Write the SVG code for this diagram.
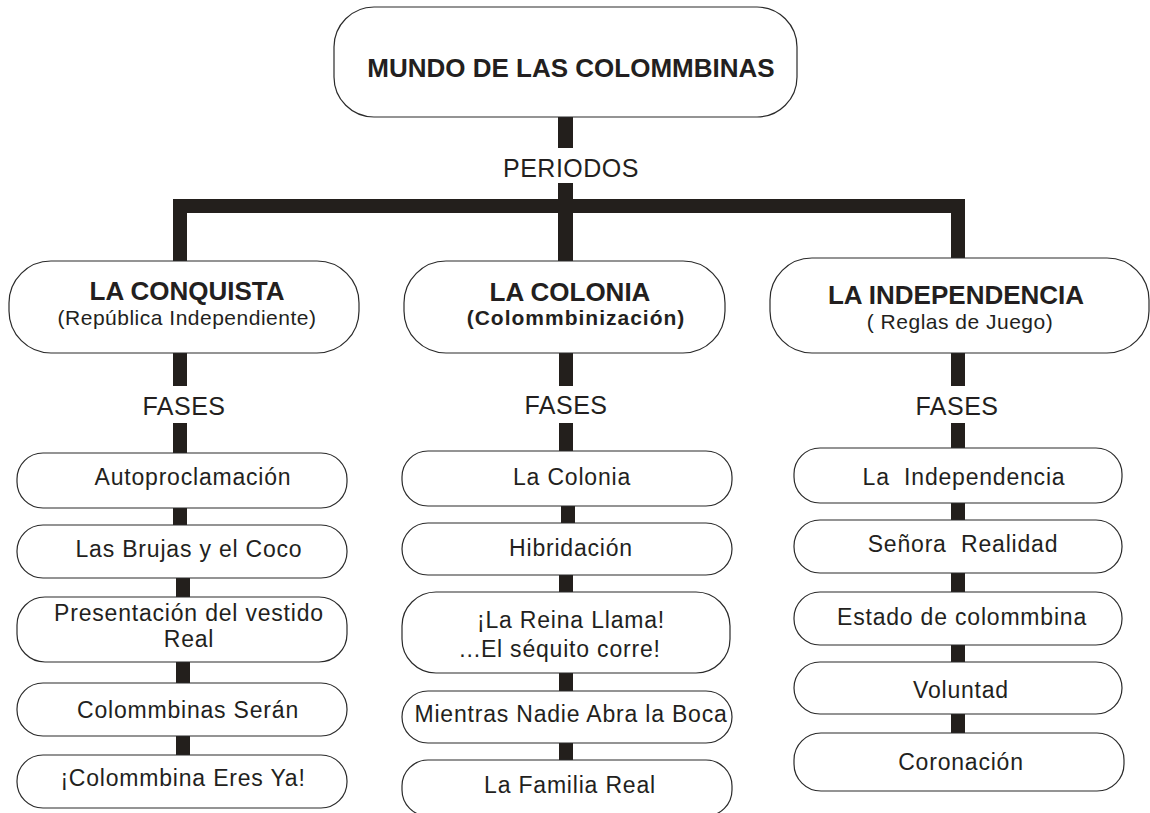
<svg xmlns="http://www.w3.org/2000/svg" width="1150" height="813" viewBox="0 0 1150 813">
<style>
.box{fill:#fff;stroke:#2a2a2a;stroke-width:1.2}
.c{fill:#231f1c}
text{font-family:"Liberation Sans",Arial,sans-serif;fill:#231f20;text-anchor:middle}
.t{font-size:26px;font-weight:bold}
.s{font-size:21px;letter-spacing:0.5px}
.sb{font-size:21px;font-weight:bold;letter-spacing:1px}
.l{font-size:25px;letter-spacing:0.5px}
.p{font-size:23px;letter-spacing:0.8px}
</style>
<rect x="0" y="0" width="1150" height="813" fill="#fff"/>
<g id="connectors">
<rect class="c" x="558" y="117" width="15" height="31"/>
<rect class="c" x="558" y="183" width="15" height="78"/>
<rect class="c" x="173" y="199" width="792" height="14"/>
<rect class="c" x="173" y="199" width="14" height="62"/>
<rect class="c" x="951" y="199" width="14" height="59"/>
<rect class="c" x="173" y="353" width="14" height="33"/>
<rect class="c" x="173" y="423" width="14" height="30"/>
<rect class="c" x="173" y="508" width="14" height="17"/>
<rect class="c" x="176" y="578" width="14" height="19"/>
<rect class="c" x="176" y="662" width="14" height="21"/>
<rect class="c" x="176" y="736" width="14" height="19"/>
<rect class="c" x="559" y="353" width="14" height="33"/>
<rect class="c" x="559" y="423" width="14" height="28"/>
<rect class="c" x="561" y="506" width="14" height="17"/>
<rect class="c" x="559" y="575" width="14" height="17"/>
<rect class="c" x="559" y="673" width="14" height="18"/>
<rect class="c" x="559" y="743" width="14" height="17"/>
<rect class="c" x="951" y="353" width="14" height="33"/>
<rect class="c" x="951" y="423" width="14" height="25"/>
<rect class="c" x="951" y="503" width="14" height="17"/>
<rect class="c" x="951" y="573" width="14" height="19"/>
<rect class="c" x="951" y="645" width="14" height="17"/>
<rect class="c" x="951" y="714" width="14" height="19"/>
</g>
<g id="labels">
<text class="l" x="571" y="177">PERIODOS</text>
<text class="l" x="184" y="415">FASES</text>
<text class="l" x="566" y="414">FASES</text>
<text class="l" x="957" y="415">FASES</text>
</g>
<g id="root">
<rect class="box" x="334" y="7" width="463" height="110" rx="40" ry="40"/>
<text class="t" x="571" y="77">MUNDO DE LAS COLOMMBINAS</text>
</g>
<g id="conquista">
<rect class="box" x="9" y="261" width="350" height="92" rx="42" ry="42"/>
<text class="t" x="187" y="300">LA CONQUISTA</text>
<text class="s" x="187" y="325">(República Independiente)</text>
</g>
<g id="colonia">
<rect class="box" x="404" y="261" width="321" height="92" rx="42" ry="42"/>
<text class="t" x="570" y="301">LA COLONIA</text>
<text class="sb" x="576" y="325">(Colommbinización)</text>
</g>
<g id="independencia">
<rect class="box" x="770" y="258" width="379" height="95" rx="42" ry="42"/>
<text class="t" x="956" y="304">LA INDEPENDENCIA</text>
<text class="s" x="960" y="329">( Reglas de Juego)</text>
</g>
<g id="c1">
<rect class="box" x="17" y="453" width="330" height="55" rx="26" ry="26"/>
<text class="p" x="193" y="485">Autoproclamación</text>
</g>
<g id="c2">
<rect class="box" x="17" y="525" width="330" height="53" rx="26" ry="26"/>
<text class="p" x="189" y="557">Las Brujas y el Coco</text>
</g>
<g id="c3">
<rect class="box" x="17" y="597" width="330" height="65" rx="28" ry="28"/>
<text class="p" x="189" y="621">Presentación del vestido</text>
<text class="p" x="189" y="647">Real</text>
</g>
<g id="c4">
<rect class="box" x="17" y="683" width="330" height="53" rx="26" ry="26"/>
<text class="p" x="188" y="718">Colommbinas Serán</text>
</g>
<g id="c5">
<rect class="box" x="17" y="755" width="330" height="53" rx="26" ry="26"/>
<text class="p" x="183" y="786">¡Colommbina Eres Ya!</text>
</g>
<g id="m1">
<rect class="box" x="402" y="451" width="330" height="55" rx="26" ry="26"/>
<text class="p" x="572" y="485">La Colonia</text>
</g>
<g id="m2">
<rect class="box" x="402" y="523" width="330" height="52" rx="26" ry="26"/>
<text class="p" x="571" y="556">Hibridación</text>
</g>
<g id="m3">
<rect class="box" x="402" y="592" width="328" height="81" rx="34" ry="34"/>
<text class="p" x="571" y="628">¡La Reina Llama!</text>
<text class="p" x="560" y="657">...El séquito corre!</text>
</g>
<g id="m4">
<rect class="box" x="402" y="691" width="330" height="52" rx="26" ry="26"/>
<text class="p" x="571" y="722">Mientras Nadie Abra la Boca</text>
</g>
<g id="m5">
<rect class="box" x="402" y="760" width="330" height="56" rx="26" ry="26"/>
<text class="p" x="570" y="793">La Familia Real</text>
</g>
<g id="r1">
<rect class="box" x="794" y="448" width="328" height="55" rx="26" ry="26"/>
<text class="p" x="964" y="485" xml:space="preserve">La  Independencia</text>
</g>
<g id="r2">
<rect class="box" x="794" y="520" width="328" height="53" rx="26" ry="26"/>
<text class="p" x="963" y="552" xml:space="preserve">Señora  Realidad</text>
</g>
<g id="r3">
<rect class="box" x="794" y="592" width="328" height="53" rx="26" ry="26"/>
<text class="p" x="962" y="625">Estado de colommbina</text>
</g>
<g id="r4">
<rect class="box" x="794" y="662" width="328" height="52" rx="26" ry="26"/>
<text class="p" x="961" y="698">Voluntad</text>
</g>
<g id="r5">
<rect class="box" x="794" y="733" width="330" height="58" rx="27" ry="27"/>
<text class="p" x="961" y="770">Coronación</text>
</g>
</svg>
